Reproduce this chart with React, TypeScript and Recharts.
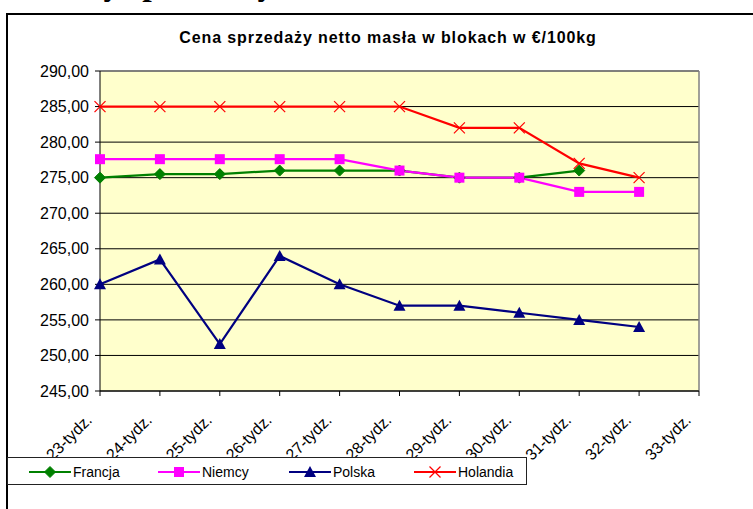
import { CartesianGrid, Line, LineChart, ReferenceLine, XAxis, YAxis } from "recharts";

const WEEKS = ["23-tydz.", "24-tydz.", "25-tydz.", "26-tydz.", "27-tydz.", "28-tydz.", "29-tydz.", "30-tydz.", "31-tydz.", "32-tydz.", "33-tydz."];
const FRANCJA = [275, 275.5, 275.5, 276, 276, 276, 275, 275, 276, null, null];
const NIEMCY = [277.6, 277.6, 277.6, 277.6, 277.6, 276, 275, 275, 273, 273, null];
const POLSKA = [260, 263.5, 251.6, 264, 260, 257, 257, 256, 255, 254, null];
const HOLANDIA = [285, 285, 285, 285, 285, 285, 282, 282, 277, 275, null];
const Y_TICKS = [245, 250, 255, 260, 265, 270, 275, 280, 285, 290];

const FONT = "'Liberation Sans', Arial, sans-serif";

const SERIES = [
  { key: "francja", name: "Francja", color: "#008000", marker: "diamond" },
  { key: "niemcy", name: "Niemcy", color: "#FF00FF", marker: "square" },
  { key: "polska", name: "Polska", color: "#000080", marker: "triangle" },
  { key: "holandia", name: "Holandia", color: "#FF0000", marker: "x" },
];

const data = WEEKS.map((w, i) => ({
  week: w,
  francja: FRANCJA[i],
  niemcy: NIEMCY[i],
  polska: POLSKA[i],
  holandia: HOLANDIA[i],
}));

function markerShape(kind: string, cx: number, cy: number, color: string) {
  if (kind === "diamond")
    return <polygon points={`${cx},${cy - 5.5} ${cx + 5.5},${cy} ${cx},${cy + 5.5} ${cx - 5.5},${cy}`} fill={color} stroke={color} />;
  if (kind === "square") return <rect x={cx - 5} y={cy - 5} width={10} height={10} fill={color} />;
  if (kind === "triangle")
    return <polygon points={`${cx},${cy - 6} ${cx + 6},${cy + 5} ${cx - 6},${cy + 5}`} fill={color} />;
  return (
    <g stroke={color} strokeWidth={1.2}>
      <line x1={cx - 5.5} y1={cy - 5.5} x2={cx + 5.5} y2={cy + 5.5} />
      <line x1={cx - 5.5} y1={cy + 5.5} x2={cx + 5.5} y2={cy - 5.5} />
    </g>
  );
}

const makeDot = (kind: string, color: string) => (props: any) => {
  const { cx, cy, value, index } = props;
  if (value == null || cx == null || cy == null) return <g key={index} />;
  return <g key={index}>{markerShape(kind, cx, cy, color)}</g>;
};

const XTick = ({ x, y, payload }: any) => {
  const ax = x - 7;
  const ay = y + 23;
  return (
    <text x={ax} y={ay} transform={`rotate(-45, ${ax}, ${ay})`} textAnchor="end" fontFamily={FONT} fontSize={16} fill="#000">
      {payload.value}
    </text>
  );
};

export default function App() {
  return (
    <div style={{ position: "absolute", left: 0, top: 0, width: 753, height: 509, overflow: "hidden", background: "#fff", fontFamily: FONT }}>
      <div style={{ position: "absolute", left: 45, top: -34, lineHeight: "36px", fontFamily: "'Liberation Serif', 'Times New Roman', serif", fontWeight: 700, fontSize: 34, whiteSpace: "nowrap" }}>
        Ceny sprzedaży
      </div>
      <div style={{ position: "absolute", left: 6, top: 13, width: 800, height: 600, borderLeft: "2px solid #000", borderTop: "2px solid #000" }} />
      <div style={{ position: "absolute", left: 88, top: 29, width: 600, textAlign: "center", fontWeight: 700, fontSize: 16, letterSpacing: 0.9, whiteSpace: "nowrap" }}>
        Cena sprzedaży netto masła w blokach w €/100kg
      </div>
      <div style={{ position: "absolute", left: 0, top: 0 }}>
        <LineChart width={753} height={509} data={data} margin={{ top: 71, right: 54, left: 0, bottom: 58 }}>
          <CartesianGrid vertical={false} stroke="#000" fill="#FFFFCC" fillOpacity={1} />
          <XAxis
            dataKey="week"
            interval={0}
            height={60}
            tick={<XTick />}
            tickSize={5}
            axisLine={{ stroke: "#000" }}
            tickLine={{ stroke: "#000" }}
          />
          <YAxis
            domain={[245, 290]}
            ticks={Y_TICKS}
            width={100}
            tickSize={5}
            tickMargin={6}
            interval={0}
            tickFormatter={(v: number) => v.toFixed(2).replace(".", ",")}
            tick={{ fill: "#000", fontSize: 16, fontFamily: FONT }}
            axisLine={{ stroke: "#000" }}
            tickLine={{ stroke: "#000" }}
          />
          <ReferenceLine y={290} stroke="#808080" strokeWidth={1.5} />
          <ReferenceLine x="33-tydz." stroke="#808080" strokeWidth={1.5} />
          {SERIES.map((s) => (
            <Line
              key={s.key}
              dataKey={s.key}
              name={s.name}
              stroke={s.color}
              strokeWidth={2.2}
              dot={makeDot(s.marker, s.color)}
              activeDot={false}
              isAnimationActive={false}
            />
          ))}
        </LineChart>
      </div>
      <div style={{ position: "absolute", left: 7, top: 457, width: 520, height: 28, border: "1px solid #222", background: "#fff", boxSizing: "border-box" }}>
        {SERIES.map((s, i) => (
          <div key={s.key} style={{ position: "absolute", left: [21, 150, 281, 406][i], top: 0, height: 28, display: "flex", alignItems: "center" }}>
            <svg width={42} height={14} style={{ display: "block" }}>
              <line x1={0} y1={7} x2={42} y2={7} stroke={s.color} strokeWidth={2.2} />
              {markerShape(s.marker, 21, 7, s.color)}
            </svg>
            <span style={{ fontSize: 14, marginLeft: 2, color: "#000" }}>{s.name}</span>
          </div>
        ))}
      </div>
    </div>
  );
}
